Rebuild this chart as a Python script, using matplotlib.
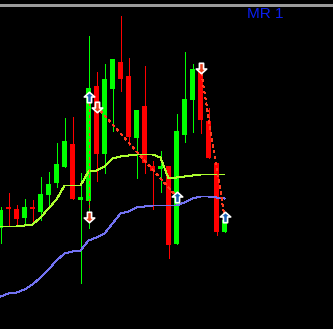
import matplotlib
matplotlib.use("Agg")
import matplotlib.pyplot as plt
import numpy as np
from matplotlib.path import Path

# -----------------------------------------------------------------
# Bar data (arbitrary price points, higher = up)
# -----------------------------------------------------------------
opens = [101, 121, 120, 111, 122, 117, 134, 146, 162, 185,
         129, 128, 243, 175, 240, 267, 253, 191, 223, 163,
         160, 163, 85, 194, 229, 260, 208, 166, 97]
highs = [122, 136, 124, 130, 129, 152, 157, 186, 211, 212,
         156, 293, 257, 265, 270, 313, 271, 219, 263, 168,
         178, 163, 215, 277, 265, 260, 221, 166, 109]
lows = [86, 104, 104, 106, 107, 109, 124, 142, 162, 130,
        46, 101, 148, 156, 198, 238, 184, 151, 156, 120,
        137, 71, 85, 187, 197, 196, 171, 94, 97]
closes = [119, 120, 110, 122, 120, 135, 145, 165, 188, 130,
          132, 241, 175, 250, 270, 250, 192, 219, 166, 158,
          163, 84, 198, 230, 260, 209, 171, 97, 109]

# moving averages, one value per bar
ma_fast = [102, 102, 102, 103, 104, 111, 120, 129, 143, 143,
           143, 157, 158, 162, 170, 172, 173, 174, 174, 174,
           171, 150, 151, 152, 153, 154, 154, 154, 154]
ma_slow = [32, 35, 36, 39, 44, 51, 59, 68, 75, 77,
           78, 88, 91, 95, 105, 115, 117, 121, 122, 123,
           123, 123, 123, 126, 130, 132, 132, 131, 130]

# signal arrows: bar index, price, direction (+1 up / -1 down)
sig_idx = [11, 12, 11, 22, 25, 28]
sig_price = [232, 222, 112, 132, 261, 112]
sig_dir = [1, -1, -1, 1, -1, 1]

# dashed zigzag legs, as pairs of signal numbers
zigzag_legs = [(0, 2), (1, 3), (4, 5)]

label = "MR 1"

BULL = "#00FF00"
BEAR = "#FF0000"

fig = plt.figure(figsize=(3.33, 3.29), dpi=100, facecolor="black")
ax = fig.add_axes([0, 0, 1, 1], facecolor="black")
# one price point per pixel, whole values on pixel centres
ax.set_xlim(-0.0625, 41.5625)
ax.set_ylim(-0.5, 328.5)
ax.axis("off")

px = 72.0 / fig.dpi
x = np.arange(len(opens))
o = np.array(opens)
c = np.array(closes)
colors = [BULL if cc >= oo else BEAR for oo, cc in zip(o, c)]

ax.vlines(x, lows, highs, colors=colors, lw=px, antialiased=False, zorder=2)
body_lo = np.minimum(o, c)
body_h = np.maximum(np.abs(c - o), 1.5)
ax.bar(x, body_h, bottom=body_lo, width=0.625, color=colors,
       linewidth=0, antialiased=False, zorder=3)

ax.plot(x, ma_fast, color="#ADFF2F", lw=0.9 * px, antialiased=False, zorder=4)
ax.plot(x, ma_slow, color="#7272F2", lw=0.9 * px, antialiased=False, zorder=4)

for a, b in zigzag_legs:
    ax.plot([sig_idx[a], sig_idx[b]], [sig_price[a], sig_price[b]],
            color="#FF3B1F", lw=px, dashes=(2.5, 4), antialiased=False,
            zorder=5)

up_arrow = Path([(0, 1), (1, 0.1), (0.4, 0.1), (0.4, -1), (-0.4, -1),
                 (-0.4, 0.1), (-1, 0.1), (0, 1)], closed=True)
down_arrow = Path([(vx, -vy) for vx, vy in up_arrow.vertices], closed=True)

for i, p, d in zip(sig_idx, sig_price, sig_dir):
    ax.plot(i, p, marker=up_arrow if d > 0 else down_arrow,
            markersize=7.5, markerfacecolor="#1A5FB4" if d > 0 else "#E8401C",
            markeredgecolor="white", markeredgewidth=1.2, zorder=6)

ax.axhline(324, color="#9A9A9A", lw=1.4 * px, antialiased=False, zorder=1)

fig.text(247 / 333, 1 - 13.5 / 329, label, color="#0A1EF0",
         fontsize=11, family="Liberation Sans", va="center", ha="left")

fig.savefig("out.png", dpi=100, facecolor="black")
